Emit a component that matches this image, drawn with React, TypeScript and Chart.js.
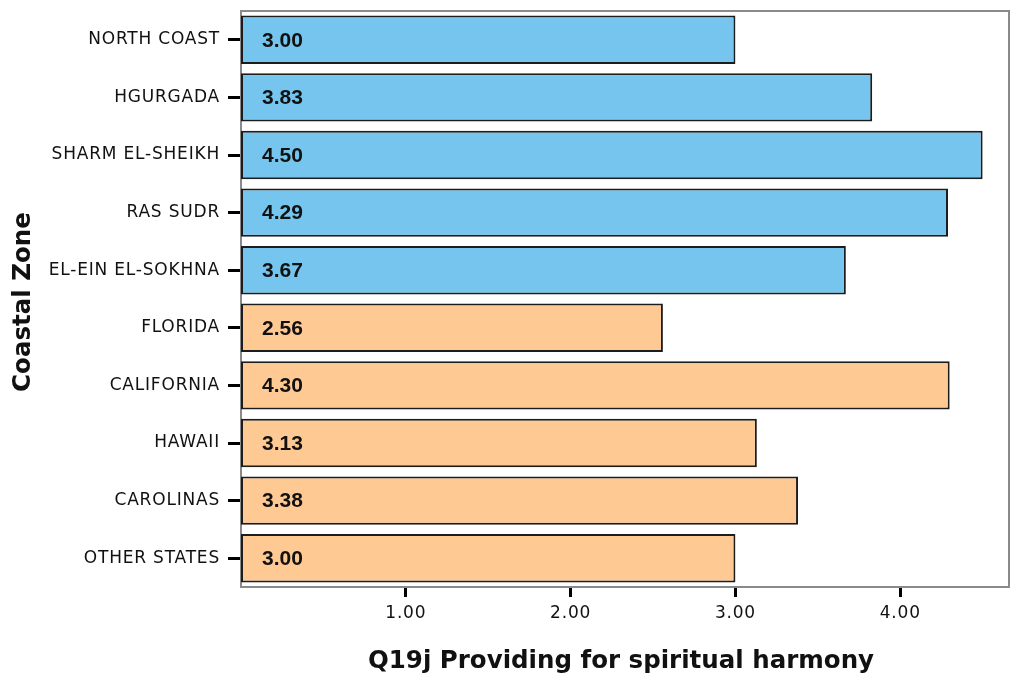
import React, { useEffect, useRef } from "react";
import { Chart, registerables } from "chart.js";

Chart.register(...registerables);

const categories = [
  "NORTH COAST",
  "HGURGADA",
  "SHARM EL-SHEIKH",
  "RAS SUDR",
  "EL-EIN EL-SOKHNA",
  "FLORIDA",
  "CALIFORNIA",
  "HAWAII",
  "CAROLINAS",
  "OTHER STATES",
];
const values = [3.0, 3.83, 4.5, 4.29, 3.67, 2.56, 4.3, 3.13, 3.38, 3.0];
const groups = ["Egypt", "Egypt", "Egypt", "Egypt", "Egypt", "USA", "USA", "USA", "USA", "USA"];
const groupColors: Record<string, string> = { Egypt: "#75C5EE", USA: "#FFC994" };
const xTickValues = [1, 2, 3, 4];
const xMin = 0;
const xMax = 4.66;
const xTitle = "Q19j Providing for spiritual harmony";
const yTitle = "Coastal Zone";

const tickFont = { family: "'DejaVu Sans', Verdana, sans-serif", size: 17 };

const decorPlugin = {
  id: "decor",
  beforeDraw(chart: any) {
    const ctx = chart.ctx;
    if ("letterSpacing" in ctx) ctx.letterSpacing = "0.8px";
  },
  beforeDatasetsDraw(chart: any) {
    const { ctx, chartArea: a } = chart;
    ctx.save();
    ctx.strokeStyle = "#8a8a8a";
    ctx.lineWidth = 2;
    ctx.strokeRect(a.left, a.top, a.right - a.left, a.bottom - a.top);
    ctx.restore();
  },
  afterDatasetsDraw(chart: any) {
    const { ctx, chartArea: a } = chart;
    const meta = chart.getDatasetMeta(0);
    ctx.save();
    if ("letterSpacing" in ctx) ctx.letterSpacing = "0px";
    ctx.font = "bold 21px 'Liberation Sans', Arial, sans-serif";
    ctx.fillStyle = "#111";
    ctx.textAlign = "left";
    ctx.textBaseline = "middle";
    meta.data.forEach((el: any, i: number) => {
      ctx.fillText(values[i].toFixed(2), a.left + 21, el.y + 1);
    });
    ctx.restore();
  },
  afterDraw(chart: any) {
    const { ctx, chartArea: a } = chart;
    ctx.save();
    if ("letterSpacing" in ctx) ctx.letterSpacing = "0px";
    ctx.font = "bold 24.5px 'DejaVu Sans', Verdana, sans-serif";
    ctx.fillStyle = "#111";
    ctx.textAlign = "center";
    ctx.textBaseline = "middle";
    ctx.fillText(xTitle, (a.left + a.right) / 2 - 4, 662);
    ctx.translate(24, (a.top + a.bottom) / 2 + 3);
    ctx.rotate(-Math.PI / 2);
    ctx.fillText(yTitle, 0, 0);
    ctx.restore();
    if ("letterSpacing" in ctx) ctx.letterSpacing = "0px";
  },
};

export default function App() {
  const ref = useRef<HTMLCanvasElement | null>(null);
  useEffect(() => {
    if (!ref.current) return;
    const chart = new Chart(ref.current, {
      type: "bar",
      data: {
        labels: categories,
        datasets: [
          {
            data: values,
            backgroundColor: groups.map((g) => groupColors[g]),
            borderColor: "#1c1c1c",
            borderWidth: 2,
            borderSkipped: false,
            barPercentage: 0.84,
            categoryPercentage: 1.0,
          },
        ],
      },
      options: {
        indexAxis: "y",
        animation: false,
        responsive: false,
        devicePixelRatio: 1,
        layout: { padding: { top: 11, right: 4, left: 0, bottom: 0 } },
        plugins: { legend: { display: false }, tooltip: { enabled: false } },
        scales: {
          x: {
            type: "linear",
            min: xMin,
            max: xMax,
            afterBuildTicks: (scale: any) => {
              scale.ticks = xTickValues.map((v) => ({ value: v }));
            },
            afterFit: (scale: any) => {
              scale.height = 95;
              scale.paddingLeft = 0;
              scale.paddingRight = 0;
            },
            grid: {
              display: true,
              drawOnChartArea: false,
              drawTicks: true,
              tickLength: 10,
              tickWidth: 3,
              tickColor: "#000",
            },
            border: { display: false },
            ticks: {
              font: tickFont,
              color: "#111",
              padding: 6,
              maxRotation: 0,
              autoSkip: false,
              callback: (v: any) => Number(v).toFixed(2),
            },
          },
          y: {
            type: "category",
            afterFit: (scale: any) => {
              scale.width = 241;
              scale.paddingTop = 0;
              scale.paddingBottom = 0;
            },
            grid: {
              display: true,
              offset: false,
              drawOnChartArea: false,
              drawTicks: true,
              tickLength: 13,
              tickWidth: 3,
              tickColor: "#000",
            },
            border: { display: false },
            ticks: { font: tickFont, color: "#111", padding: 8, autoSkip: false },
          },
        },
      },
      plugins: [decorPlugin],
    } as any);
    return () => chart.destroy();
  }, []);
  return (
    <div style={{ position: "fixed", left: 0, top: 0, width: 1013, height: 682, background: "#fff" }}>
      <canvas ref={ref} width={1013} height={682} style={{ display: "block" }} />
    </div>
  );
}
